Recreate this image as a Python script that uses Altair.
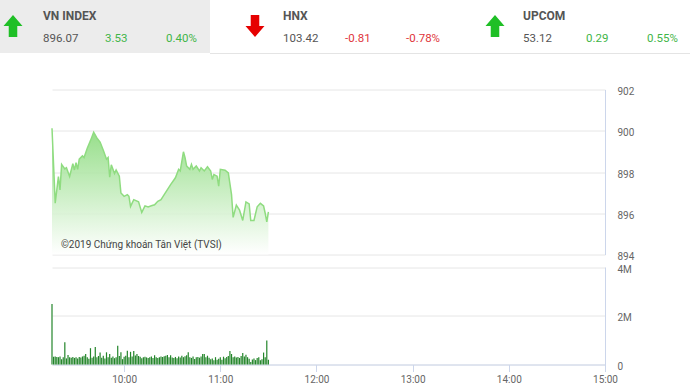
import altair as alt
import pandas as pd

# ---------------- data ----------------
index_names = ["VN INDEX", "HNX", "UPCOM"]
index_values = ["896.07", "103.42", "53.12"]
index_changes = ["3.53", "-0.81", "0.29"]
index_pcts = ["0.40%", "-0.78%", "0.55%"]
index_dirs = ["up", "down", "up"]

session_start = 555  # 09:15 in minutes of day
price_minutes = [0, 2, 4, 5, 6, 8, 9, 11, 13, 14, 15, 16, 17, 19, 20, 22, 24, 26, 28, 30,
                 32, 34, 35, 36, 37, 39, 40, 42, 43, 45, 47, 48, 49, 51, 54, 56, 58, 60, 62, 64,
                 66, 68, 70, 72, 74, 77, 79, 80, 82, 83, 84, 86, 87, 88, 90, 92, 93, 95, 97, 99,
                 100, 101, 103, 104, 105, 108, 110, 112, 113, 115, 117, 119, 121, 123, 124, 126,
                 128, 130, 132, 133, 134, 135]
price_values = [900.12, 896.49, 897.78, 897.13, 898.37, 898.15, 898.21, 897.78, 898.40, 898.10,
                898.45, 898.13, 898.62, 898.78, 898.70, 899.15, 899.52, 899.93, 899.65, 899.45,
                899.05, 898.62, 898.70, 897.75, 898.35, 897.93, 898.10, 897.80, 896.98, 896.82,
                896.90, 896.82, 896.33, 896.66, 896.55, 896.04, 896.36, 896.30, 896.36, 896.41,
                896.58, 896.66, 896.90, 897.15, 897.39, 897.72, 898.13, 898.05, 898.98, 898.70,
                898.29, 898.13, 898.37, 898.13, 898.29, 898.05, 898.21, 898.05, 898.25, 898.05,
                897.64, 897.88, 897.80, 897.31, 898.13, 898.09, 897.96, 896.90, 895.80, 896.39,
                896.15, 895.65, 896.55, 896.45, 895.65, 895.65, 896.31, 896.48, 896.35, 896.00,
                895.58, 896.07]

# volume per minute from 09:15, in millions of shares
volume_millions = [2.48, 0.32, 0.33, 0.31, 0.30, 0.33, 0.22, 0.30, 0.91, 0.25,
                   0.39, 0.30, 0.28, 0.31, 0.27, 0.30, 0.25, 0.31, 0.29, 0.33,
                   0.36, 0.43, 0.30, 0.24, 0.67, 0.28, 0.33, 0.72, 0.30, 0.35,
                   0.49, 0.28, 0.36, 0.25, 0.50, 0.30, 0.43, 0.28, 0.33, 0.26,
                   0.30, 0.77, 0.35, 0.50, 0.22, 0.32, 0.36, 0.56, 0.30, 0.52,
                   0.33, 0.55, 0.37, 0.43, 0.35, 0.32, 0.26, 0.30, 0.32, 0.29,
                   0.27, 0.30, 0.33, 0.27, 0.38, 0.30, 0.27, 0.30, 0.33, 0.31,
                   0.34, 0.36, 0.39, 0.30, 0.38, 0.29, 0.27, 0.31, 0.26, 0.33,
                   0.29, 0.36, 0.30, 0.34, 0.38, 0.50, 0.30, 0.27, 0.33, 0.23,
                   0.30, 0.31, 0.28, 0.33, 0.43, 0.43, 0.30, 0.36, 0.28, 0.22,
                   0.25, 0.17, 0.30, 0.20, 0.24, 0.30, 0.19, 0.32, 0.26, 0.31,
                   0.35, 0.55, 0.43, 0.30, 0.33, 0.29, 0.31, 0.27, 0.35, 0.47,
                   0.33, 0.40, 0.30, 0.24, 0.10, 0.21, 0.25, 0.18, 0.27, 0.30,
                   0.17, 0.22, 0.49, 0.30, 0.98, 0.20]

hour_ticks = [600, 660, 720, 780, 840, 900]
price_ticks = [894, 896, 898, 900, 902]
volume_ticks = [0, 2, 4]
copyright_text = "©2019 Chứng khoán Tân Việt (TVSI)"

# ---------------- layout / style ----------------
OX, OY = 52, 89.5          # plot origin on the page
W, H = 553, 275
FONT = "Roboto"
GREEN_TXT, RED_TXT, GRAY_TXT = "#3fb548", "#e0353b", "#555555"
ARROW_COL = {"up": "#1fbf26", "down": "#e60000"}
TXT_COL = {"up": GREEN_TXT, "down": RED_TXT}
UP_PATH = "M0,-1.15 L1,0 L0.45,0 L0.45,1.15 L-0.45,1.15 L-0.45,0 L-1,0 Z"
DOWN_PATH = "M0,1.15 L1,0 L0.45,0 L0.45,-1.15 L-0.45,-1.15 L-0.45,0 L-1,0 Z"

arrow_x = [13, 255, 495]
name_x = [43, 283, 523]
change_x = [105, 345, 586]
pct_x = [166, 406, 647]
row1_y, row2_y, arrow_y = 16, 39, 26

one = pd.DataFrame({"k": [0]})


def txt(s, ax, ay, color, size=11.5, weight="normal"):
    return alt.Chart(one).mark_text(
        align="left", baseline="middle", font=FONT, fontSize=size,
        fontWeight=weight, color=color
    ).encode(x=alt.value(ax - OX), y=alt.value(ay - OY), text=alt.value(s))


header = [
    alt.Chart(one).mark_rect(color="#ececec").encode(
        x=alt.value(-OX), x2=alt.value(210 - OX),
        y=alt.value(-OY), y2=alt.value(53 - OY)),
    alt.Chart(one).mark_rule(color="#e4e4e4", strokeWidth=1).encode(
        x=alt.value(210 - OX), x2=alt.value(690 - OX), y=alt.value(53.5 - OY)),
]
for i in range(3):
    d = index_dirs[i]
    header.append(
        alt.Chart(one).mark_point(
            shape=UP_PATH if d == "up" else DOWN_PATH, filled=True, size=360,
            color=ARROW_COL[d], opacity=1
        ).encode(x=alt.value(arrow_x[i] - OX), y=alt.value(arrow_y - OY))
    )
    header.append(txt(index_names[i], name_x[i], row1_y, GRAY_TXT, 12, "bold"))
    header.append(txt(index_values[i], name_x[i], row2_y, GRAY_TXT))
    header.append(txt(index_changes[i], change_x[i], row2_y, TXT_COL[d]))
    header.append(txt(index_pcts[i], pct_x[i], row2_y, TXT_COL[d]))

axis_style = dict(labelColor="#666666", labelFont=FONT, labelFontSize=10, title=None)

x_enc = alt.X(
    "t:Q",
    scale=alt.Scale(domain=[555, 900], nice=False, zero=False, padding=0),
    axis=alt.Axis(values=hour_ticks, labelExpr="floor(datum.value/60) + ':00'",
                  grid=False, domainColor="#ccd6eb", tickColor="#ccd6eb",
                  tickSize=7, labelPadding=3, labelFlush=False, labelBound=False,
                  **axis_style),
)

price_df = pd.DataFrame({"t": [session_start + m for m in price_minutes], "p": price_values})
vol_df = pd.DataFrame({"t": [session_start + i for i in range(len(volume_millions))],
                       "v": volume_millions})

gradient = alt.Gradient(
    gradient="linear",
    stops=[alt.GradientStop(color="#82d873", offset=0),
           alt.GradientStop(color="#ffffff", offset=1)],
    x1=1, x2=1, y1=0, y2=1,
)

price = alt.Chart(price_df).mark_area(
    color=gradient, fillOpacity=0.85,
    line={"color": "#8fdc80", "strokeWidth": 1.5},
).encode(
    x=x_enc,
    y=alt.Y("p:Q", scale=alt.Scale(domain=[894, 902], range=[165, 0], zero=False, nice=False),
            axis=alt.Axis(orient="right", values=price_ticks, grid=True, gridColor="#e6e6e6",
                          domainColor="#ccd6eb", ticks=False, labelPadding=12,
                          labelOffset=2, labelBaseline="middle", **axis_style)),
    y2=alt.datum(894),
)

copyright = txt(copyright_text, 61, 245, "#444444", 10)

volume = alt.Chart(vol_df).mark_bar(color="#23852a", size=1.2, orient="vertical").encode(
    x=x_enc,
    y=alt.Y("v:Q", scale=alt.Scale(domain=[0, 4], range=[275, 177.5], nice=False),
            axis=alt.Axis(orient="right", values=volume_ticks,
                          labelExpr="datum.value == 0 ? '0' : datum.value + 'M'",
                          grid=True, gridColor="#e6e6e6", domainColor="#ccd6eb",
                          ticks=False, labelPadding=12, labelOffset=2,
                          labelBaseline="middle", **axis_style)),
)

chart = alt.layer(*header, price, copyright, volume).resolve_scale(
    y="independent"
).properties(
    width=W, height=H,
    autosize=alt.AutoSizeParams(type="none"),
    padding={"left": OX, "top": OY, "right": 690 - OX - W, "bottom": 392 - OY - H},
    background="white",
).configure_view(stroke=None)

chart.save("out.html", embed_options={"renderer": "svg", "actions": False})
